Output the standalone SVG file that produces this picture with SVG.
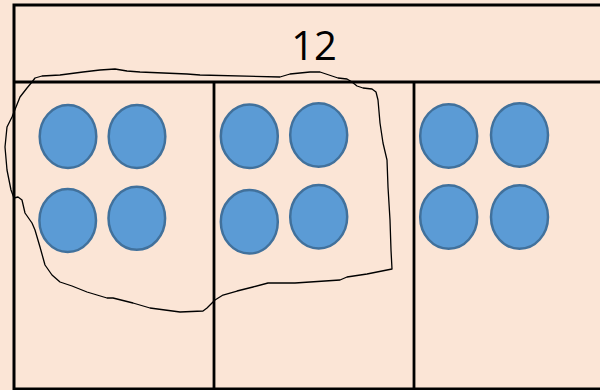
<svg xmlns="http://www.w3.org/2000/svg" width="600" height="390" viewBox="0 0 600 390">
<style>
.frame{fill:none;stroke:#000;stroke-width:3}
.div{stroke:#000;stroke-width:2.8}
.dot{fill:#5B9BD5;stroke:#41719C;stroke-width:2.5}
.lasso{fill:none;stroke:#000;stroke-width:1.3;stroke-linejoin:round}
.title{font-family:"Open Sans","Liberation Sans",sans-serif;font-size:40px;fill:#000}
</style>
<rect x="0" y="0" width="600" height="390" fill="#FBE5D6"/>
<g id="table">
<rect class="frame" x="14" y="5" width="600" height="384"/>
<line class="div" x1="14" y1="82" x2="600" y2="82"/>
<line class="div" x1="214" y1="82" x2="214" y2="390"/>
<line class="div" x1="414" y1="82" x2="414" y2="390"/>
<text class="title" x="314" y="60" text-anchor="middle">12</text>
</g>
<g id="group1">
<ellipse class="dot" cx="68" cy="136.5" rx="28.3" ry="31.5"/>
<ellipse class="dot" cx="137" cy="136.5" rx="28.3" ry="31.5"/>
<ellipse class="dot" cx="67.7" cy="220.5" rx="28.3" ry="31.5"/>
<ellipse class="dot" cx="136.8" cy="218.3" rx="28.3" ry="31.5"/>
</g>
<g id="group2">
<ellipse class="dot" cx="249.3" cy="136.3" rx="28.5" ry="31.8"/>
<ellipse class="dot" cx="318.7" cy="135" rx="28.5" ry="31.8"/>
<ellipse class="dot" cx="249.3" cy="221.8" rx="28.5" ry="31.8"/>
<ellipse class="dot" cx="318.7" cy="216.8" rx="28.5" ry="31.8"/>
</g>
<g id="group3">
<ellipse class="dot" cx="448.7" cy="136" rx="28.5" ry="31.8"/>
<ellipse class="dot" cx="519.5" cy="135" rx="28.5" ry="31.8"/>
<ellipse class="dot" cx="448.7" cy="217" rx="28.5" ry="31.8"/>
<ellipse class="dot" cx="519.5" cy="217" rx="28.5" ry="31.8"/>
</g>
<g id="lasso">
<path class="lasso" d="M35,78 L42,76 L60,75 L83,72 L100,70 L115,69 L127,71 L140,72 L187,74 L200,75 L280,77 L290,74 L310,72 L320,72 L338,78 L347,79 L352,82 L357,86 L363,88 L372,89 L376,92 L378,100 L380,123 L383,143 L387,160 L388,187 L390,220 L391,250 L392,269 L367,274 L347,277 L340,280 L295,283 L268,283 L253,287 L237,291 L223,295 L215,300 L207,308 L203,311 L180,312 L150,308 L133,303 L113,298 L107,298 L87,292 L72,286 L60,282 L52,275 L45,265 L40,247 L35,230 L32,223 L25,213 L22,200 L18,197 L14,198 L11,190 L7,170 L5,147 L7,127 L12,117 L16,107 L20,97 L27,88 L32,82 Z"/>
</g>
</svg>
